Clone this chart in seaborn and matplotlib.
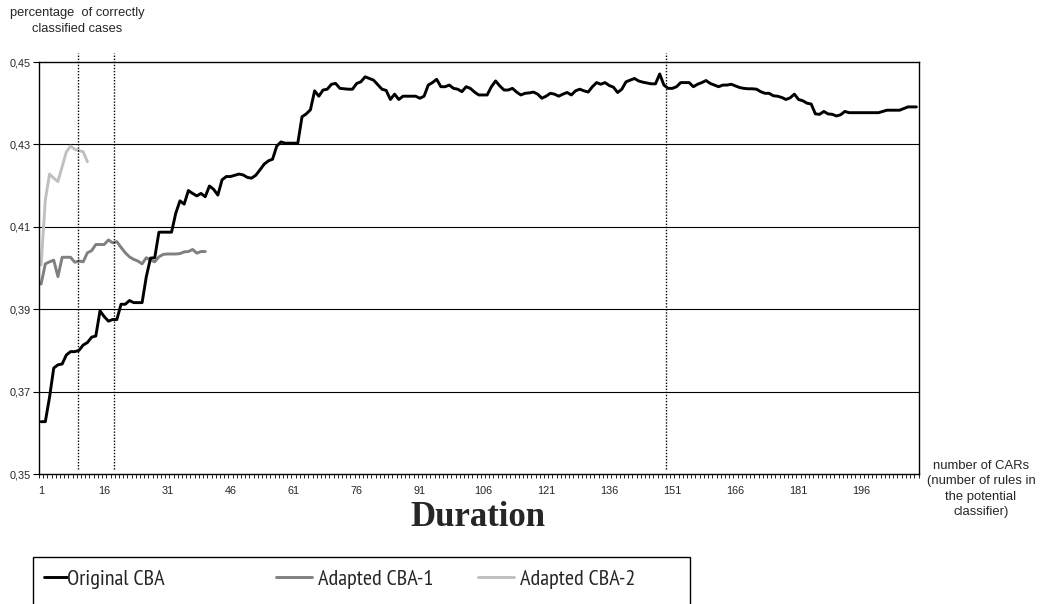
import os
import numpy as np
import pandas as pd
import matplotlib
matplotlib.use("Agg")
import matplotlib.pyplot as plt
from matplotlib import font_manager as fm
from matplotlib.patches import Rectangle
from matplotlib.ticker import FixedLocator, FuncFormatter
import seaborn as sns

# Accuracy (share of correctly classified cases) by number of CARs
original_cba = [
    0.3627, 0.3627, 0.3686, 0.3757, 0.3765, 0.3767, 0.3789, 0.3797, 0.3797, 0.3800,
    0.3813, 0.3819, 0.3832, 0.3835, 0.3896, 0.3882, 0.3871, 0.3875, 0.3875, 0.3912,
    0.3912, 0.3921, 0.3916, 0.3916, 0.3916, 0.3979, 0.4024, 0.4025, 0.4087, 0.4087,
    0.4087, 0.4087, 0.4133, 0.4163, 0.4155, 0.4188, 0.4181, 0.4175, 0.4181, 0.4173,
    0.4199, 0.4191, 0.4177, 0.4214, 0.4222, 0.4222, 0.4225, 0.4228, 0.4226, 0.4220,
    0.4218, 0.4225, 0.4238, 0.4252, 0.4260, 0.4264, 0.4296, 0.4306, 0.4303, 0.4303,
    0.4303, 0.4303, 0.4367, 0.4374, 0.4384, 0.4430, 0.4417, 0.4432, 0.4434, 0.4446,
    0.4448, 0.4436, 0.4435, 0.4434, 0.4434, 0.4448, 0.4452, 0.4464, 0.4460, 0.4456,
    0.4445, 0.4434, 0.4431, 0.4409, 0.4422, 0.4409, 0.4417, 0.4417, 0.4417, 0.4417,
    0.4412, 0.4417, 0.4444, 0.4450, 0.4458, 0.4440, 0.4440, 0.4444, 0.4436, 0.4434,
    0.4428, 0.4440, 0.4436, 0.4427, 0.4420, 0.4420, 0.4420, 0.4440, 0.4454, 0.4442,
    0.4432, 0.4432, 0.4436, 0.4427, 0.4420, 0.4424, 0.4425, 0.4427, 0.4422, 0.4412,
    0.4417, 0.4424, 0.4422, 0.4417, 0.4422, 0.4426, 0.4420, 0.4430, 0.4434, 0.4430,
    0.4427, 0.4440, 0.4450, 0.4446, 0.4450, 0.4443, 0.4439, 0.4426, 0.4434, 0.4452,
    0.4456, 0.4460, 0.4454, 0.4451, 0.4449, 0.4447, 0.4447, 0.4471, 0.4444, 0.4436,
    0.4436, 0.4440, 0.4450, 0.4450, 0.4450, 0.4440, 0.4446, 0.4450, 0.4455, 0.4448,
    0.4444, 0.4440, 0.4444, 0.4444, 0.4446, 0.4442, 0.4438, 0.4436, 0.4435, 0.4435,
    0.4434, 0.4428, 0.4424, 0.4424, 0.4418, 0.4417, 0.4414, 0.4409, 0.4413, 0.4422,
    0.4409, 0.4406, 0.4400, 0.4398, 0.4374, 0.4373, 0.4380, 0.4374, 0.4373, 0.4369,
    0.4372, 0.4380, 0.4377, 0.4377, 0.4377, 0.4377, 0.4377, 0.4377, 0.4377, 0.4377,
    0.4380, 0.4383, 0.4383, 0.4383, 0.4383, 0.4387, 0.4391, 0.4391, 0.4391,
]
adapted_cba_1 = [
    0.3961, 0.4010, 0.4015, 0.4019, 0.3979, 0.4026, 0.4026, 0.4026, 0.4014, 0.4017,
    0.4015, 0.4037, 0.4042, 0.4057, 0.4057, 0.4057, 0.4068, 0.4061, 0.4064, 0.4050,
    0.4037, 0.4027, 0.4021, 0.4017, 0.4010, 0.4025, 0.4019, 0.4015, 0.4027, 0.4033,
    0.4034, 0.4034, 0.4034, 0.4035, 0.4039, 0.4040, 0.4045, 0.4036, 0.4040, 0.4040,
]
adapted_cba_2 = [
    0.4007, 0.4165, 0.4228, 0.4218, 0.4210, 0.4246, 0.4282, 0.4296, 0.4288, 0.4285,
    0.4282, 0.4258,
]

series_names = ["Original CBA", "Adapted CBA-1", "Adapted CBA-2"]
series_values = [original_cba, adapted_cba_1, adapted_cba_2]
series_colors = ["#000000", "#808080", "#c0c0c0"]

# Rule counts marked with dotted reference lines
marked_counts = [9.8, 18.25, 149.4]

x_tick_labels = list(range(1, 197, 15))
y_ticks = [0.35, 0.37, 0.39, 0.41, 0.43, 0.45]

frames = []
for name, vals in zip(series_names, series_values):
    frames.append(pd.DataFrame({"cars": np.arange(1, len(vals) + 1),
                                "accuracy": vals, "series": name}))
df = pd.concat(frames, ignore_index=True)

sns.set_theme(style="white")
plt.rcParams["font.family"] = ["Liberation Sans", "DejaVu Sans"]


def narrow_sans():
    """Pick an installed narrow/condensed regular sans face, if there is one."""
    preferred = ["narrow", "semicondensed", "condensed"]
    found = {}
    for f in fm.fontManager.ttflist:
        base = os.path.basename(f.fname).lower().replace("-", "").replace("_", "")
        if "sans" not in base or "mono" in base:
            continue
        if any(s in base for s in ("bold", "italic", "oblique", "light", "thin",
                                   "black", "medium", "extracondensed",
                                   "ultracondensed")):
            continue
        for key in preferred:
            if key in base and key not in found:
                found[key] = f.fname
    for key in preferred:
        if key in found:
            return fm.FontProperties(fname=found[key])
    return fm.FontProperties(family=["Liberation Sans", "DejaVu Sans"])


W, H = 1040, 604
fig = plt.figure(figsize=(W / 100, H / 100), dpi=100)
ax = fig.add_axes([39 / W, 1 - 474 / H, (918.5 - 39) / W, (474 - 62) / H])

n_cat = len(original_cba)
for name, color in zip(series_names, series_colors):
    sns.lineplot(data=df[df["series"] == name], x="cars", y="accuracy",
                 color=color, linewidth=2.1, ax=ax, label=name, legend=False,
                 zorder=3 if name == "Original CBA" else 2)
handles, labels = ax.get_legend_handles_labels()
lines = dict(zip(labels, handles))

ax.set_xlim(0.5, n_cat + 0.5)
ax.set_ylim(0.35, 0.45)

# Horizontal gridlines
for yv in y_ticks[1:-1]:
    ax.axhline(yv, color="black", linewidth=0.8, zorder=1)

# Dotted reference lines, slightly taller than the plot area
trans = matplotlib.transforms.blended_transform_factory(ax.transData, ax.transAxes)
for xv in marked_counts:
    ax.plot([xv, xv], [0.012, 1.022], transform=trans, color="black",
            linestyle=(0, (1, 1.2)), linewidth=1.0, clip_on=False, zorder=4)

for side in ["left", "bottom", "right", "top"]:
    ax.spines[side].set_visible(True)
    ax.spines[side].set_color("black")
    ax.spines[side].set_linewidth(1.0)

ax.yaxis.set_major_locator(FixedLocator(y_ticks))
ax.yaxis.set_major_formatter(FuncFormatter(lambda v, p: f"{v:.2f}".replace(".", ",")))
ax.xaxis.set_major_locator(FixedLocator(x_tick_labels))
ax.xaxis.set_minor_locator(FixedLocator(np.arange(0.5, n_cat + 1, 1.0)))
ax.xaxis.set_major_formatter(FuncFormatter(lambda v, p: f"{int(round(v))}"))
ax.tick_params(axis="y", which="major", direction="out", length=4, width=0.8,
               color="black", labelsize=7.8, pad=2, left=True)
ax.tick_params(axis="x", which="major", direction="out", length=0,
               labelsize=7.8, pad=9, bottom=True)
ax.tick_params(axis="x", which="minor", direction="out", length=3, width=0.6,
               color="black", bottom=True)
ax.set_xlabel("")
ax.set_ylabel("")

fig.text(77 / W, 1 - 21 / H, "percentage  of correctly\nclassified cases",
         ha="center", va="center", fontsize=9.3, linespacing=1.4)
fig.text(981 / W, 1 - 489 / H,
         "number of CARs\n(number of rules in\nthe potential\nclassifier)",
         ha="center", va="center", fontsize=9.4, linespacing=1.38)
fig.text(478 / W, 1 - 518 / H, "Duration", ha="center", va="center",
         fontsize=25, fontweight="bold", family=["Liberation Serif", "DejaVu Serif"])

# Legend box running off the bottom edge
fig.patches.append(Rectangle((33 / W, -0.05), (690 - 33) / W, (H - 557) / H + 0.05,
                             transform=fig.transFigure, facecolor="white",
                             edgecolor="black", linewidth=1.0))

# Size the narrow legend face so "Original CBA" spans about 100 px
legend_fp = narrow_sans()
legend_fp.set_size(14)
renderer = fig.canvas.get_renderer()
probe = fig.text(0, 0, "Original CBA", fontproperties=legend_fp)
probe_w = probe.get_window_extent(renderer).width
probe.remove()
legend_fp.set_size(min(16.0, 14 * 100 / probe_w))

entry_layout = [(44, 23), (276, 36), (478, 36)]
text_starts = [67, 318, 520]
for name, (x0, hpx), tx in zip(series_names, entry_layout, text_starts):
    fs_px = legend_fp.get_size_in_points() * 100 / 72
    hlen = hpx / fs_px
    hpad = max(0.0, (tx - x0 - hpx) / fs_px)
    fig.legend([lines[name]], [name], loc="center left",
               bbox_to_anchor=(x0 / W, 1 - 579 / H), frameon=False,
               borderpad=0, borderaxespad=0, handlelength=hlen,
               handletextpad=hpad, prop=legend_fp)

fig.savefig("out.png", dpi=100)
